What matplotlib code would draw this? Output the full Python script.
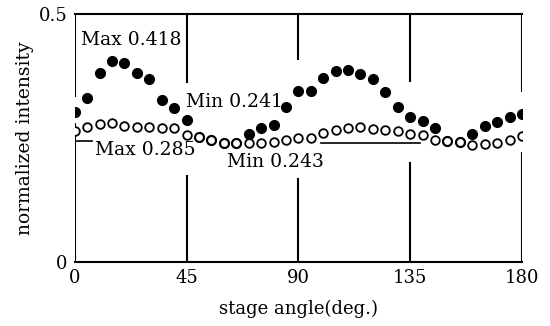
import numpy as np
import matplotlib
matplotlib.use("Agg")
import matplotlib.pyplot as plt

# stage angle (deg), 5 degree steps
angle = np.arange(0, 181, 5)

# filled circles (hidden ones at 50-65 and 150-155 sit under the open circles)
filled = [0.302, 0.331, 0.381, 0.405, 0.401, 0.381, 0.369, 0.327, 0.310, 0.286,
          0.252, 0.246, 0.240, 0.241, 0.258, 0.270, 0.276, 0.313, 0.345, 0.345,
          0.372, 0.386, 0.387, 0.379, 0.370, 0.342, 0.313, 0.292, 0.285, 0.270,
          0.244, 0.243, 0.259, 0.274, 0.283, 0.293, 0.298]

# open circles
hollow = [0.264, 0.272, 0.278, 0.280, 0.274, 0.272, 0.272, 0.271, 0.270, 0.257,
          0.252, 0.246, 0.240, 0.241, 0.240, 0.241, 0.243, 0.246, 0.251, 0.251,
          0.261, 0.267, 0.271, 0.272, 0.269, 0.267, 0.265, 0.259, 0.256, 0.246,
          0.244, 0.243, 0.236, 0.239, 0.241, 0.246, 0.254]

xticks = [0, 45, 90, 135, 180]
xtick_labels = ["0", "45", "90", "135", "180"]
yticks = [0, 0.5]
ytick_labels = ["0", "0.5"]

# vertical rule segments: (x, top part lower end, bottom part upper end)
rules = [(0, 0.333, 0.280), (45, 0.360, 0.175), (90, 0.407, 0.169),
         (135, 0.363, 0.202), (180, 0.343, 0.222)]

plt.rcParams['font.family'] = ['DejaVu Serif']

fig = plt.figure(figsize=(5.5, 3.26), dpi=100)
ax = fig.add_axes([0.136, 0.196, 0.813, 0.761])

lw = 1.5
for x, top_end, bot_end in rules:
    ax.plot([x, x], [0.5, top_end], color='black', lw=lw, solid_capstyle='butt', zorder=1)
    ax.plot([x, x], [bot_end, 0], color='black', lw=lw, solid_capstyle='butt', zorder=1)

ax.plot(angle, filled, 'o', color='black', ms=7, mec='black', zorder=3)
ax.plot(angle, hollow, 'o', mfc='white', mec='black', ms=6.2, mew=1.3, zorder=4)

# annotation rules
ax.plot([0.8, 6.9], [0.244, 0.244], color='black', lw=1.2, zorder=2)
ax.plot([99, 139], [0.240, 0.240], color='black', lw=1.2, zorder=2)

fs = 13.5
ax.text(2.4, 0.448, "Max 0.418", fontsize=fs, ha='left', va='center')
ax.text(44.7, 0.323, "Min 0.241", fontsize=fs, ha='left', va='center')
ax.text(8.1, 0.226, "Max 0.285", fontsize=fs, ha='left', va='center')
ax.text(61.2, 0.202, "Min 0.243", fontsize=fs, ha='left', va='center')

ax.set_xlim(0, 180)
ax.set_ylim(0, 0.5)
for side in ['left', 'right']:
    ax.spines[side].set_visible(False)
for side in ['top', 'bottom']:
    ax.spines[side].set_linewidth(lw)

ax.set_xticks(xticks)
ax.set_xticklabels(xtick_labels)
ax.set_yticks(yticks)
ax.set_yticklabels(ytick_labels)
ax.tick_params(length=0, labelsize=13, pad=5)

ax.set_xlabel("stage angle(deg.)", fontsize=13, labelpad=9)
ax.set_ylabel("normalized intensity", fontsize=13.5, labelpad=4)

fig.savefig("out.png", dpi=100, facecolor='white')
